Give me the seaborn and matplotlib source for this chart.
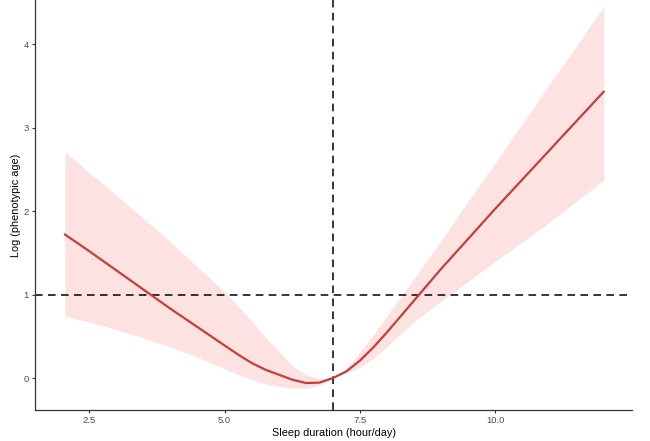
import numpy as np
import pandas as pd
import seaborn as sns
import matplotlib.pyplot as plt

# values
sleep_hours = [2.05, 2.5, 3.0, 3.5, 4.0, 4.5, 5.0, 5.25, 5.5, 5.75, 6.0, 6.25, 6.5, 6.75, 7.0,
               7.25, 7.5, 7.75, 8.0, 8.25, 8.5, 9.0, 9.5, 10.0, 10.5, 11.0, 11.5, 12.0]
log_age = [1.72, 1.52, 1.29, 1.06, 0.83, 0.61, 0.39, 0.28, 0.18, 0.10, 0.04, -0.02, -0.06, -0.055, 0.00,
           0.08, 0.21, 0.37, 0.55, 0.74, 0.93, 1.31, 1.67, 2.03, 2.38, 2.73, 3.08, 3.43]
upper_ci = [2.71, 2.46, 2.19, 1.91, 1.63, 1.33, 1.03, 0.86, 0.68, 0.49, 0.32, 0.15, 0.04, -0.01, 0.00,
            0.12, 0.31, 0.52, 0.75, 0.97, 1.19, 1.65, 2.12, 2.58, 3.05, 3.52, 3.98, 4.45]
lower_ci = [0.74, 0.67, 0.58, 0.48, 0.37, 0.25, 0.11, 0.04, -0.02, -0.07, -0.10, -0.12, -0.12, -0.09, 0.00,
            0.06, 0.13, 0.24, 0.38, 0.53, 0.68, 0.92, 1.16, 1.40, 1.63, 1.87, 2.12, 2.37]
x_ticks = [2.5, 5.0, 7.5, 10.0]
y_ticks = [0, 1, 2, 3, 4]
ref_hours = 7.0
ref_value = 1.0

df = pd.DataFrame({"sleep": sleep_hours, "fit": log_age,
                   "upper": upper_ci, "lower": lower_ci})

sns.set_style("ticks")
plt.rcParams['font.family'] = ['Liberation Sans', 'DejaVu Sans']

fig = plt.figure(figsize=(6.5, 4.41), dpi=100)
ax = fig.add_axes([35 / 650, 31 / 441, 597 / 650, 410 / 441])

# confidence band + fitted curve
ax.fill_between(df["sleep"], df["lower"], df["upper"], color="#fde2e2", lw=0, zorder=1)
sns.lineplot(data=df, x="sleep", y="fit", ax=ax, color="#c73e38", lw=1.6, zorder=3)

# reference lines
ax.axhline(ref_value, color="black", ls=(0, (5, 3.5)), lw=1.1, zorder=2)
ax.axvline(ref_hours, color="black", ls=(0, (5, 3.5)), lw=1.1, zorder=2)

ax.set_xlim(1.5, 12.52)
ax.set_ylim(-0.383, 4.527)
ax.set_xticks(x_ticks)
ax.set_xticklabels([f"{t:.1f}" for t in x_ticks])
ax.set_yticks(y_ticks)
ax.tick_params(axis="both", labelsize=6.8, labelcolor="#4d4d4d", color="#333333",
               length=2.5, width=0.8, pad=2)
ax.set_xlabel("Sleep duration (hour/day)", fontsize=7.8, color="black", labelpad=2)
ax.set_ylabel("Log (phenotypic age)", fontsize=7.8, color="black", labelpad=2)

sns.despine(ax=ax)
for side in ["left", "bottom"]:
    ax.spines[side].set_color("#333333")
    ax.spines[side].set_linewidth(0.9)

fig.savefig("out.png", dpi=100)
